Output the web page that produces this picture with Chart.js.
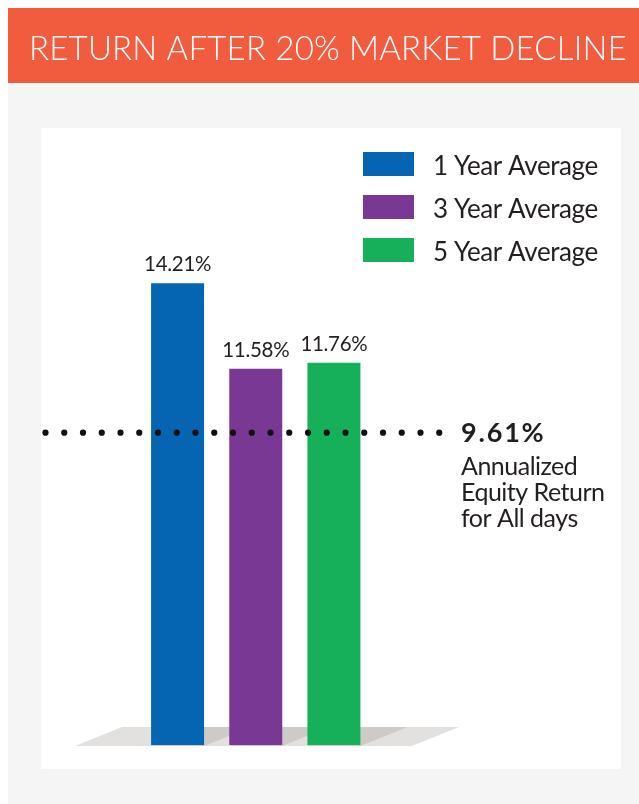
<!DOCTYPE html>
<html>
<head>
<meta charset="utf-8">
<script src="https://cdn.jsdelivr.net/npm/chart.js@4.4.1/dist/chart.umd.min.js"></script>
<style>
  html, body { margin: 0; padding: 0; background: #ffffff; }
  #wrap { width: 639px; height: 804px; position: relative; }
  canvas { display: block; }
</style>
</head>
<body>
<div id="wrap"><canvas id="c" width="639" height="804"></canvas></div>
<script>
// ---- data ----
const titleText = 'RETURN AFTER 20% MARKET DECLINE';
const categories = ['1 Year Average', '3 Year Average', '5 Year Average'];
const values = [14.21, 11.58, 11.76];
const valueLabels = ['14.21%', '11.58%', '11.76%'];
const benchmarkValue = 9.61;
const benchmarkLabel = '9.61%';
const benchmarkNote = ['Annualized', 'Equity Return', 'for All days'];

// ---- style ----
const barColors = ['#0565b2', '#7a3895', '#16b05a'];
const FONT = 'Lato, "Open Sans", sans-serif';
const TEXT = '#231f20';

function setSpacing(ctx, px) {
  if ('letterSpacing' in ctx) ctx.letterSpacing = px + 'px';
}

const decorPlugin = {
  id: 'decor',
  beforeDraw(chart) {
    const ctx = chart.ctx;
    ctx.save();
    ctx.fillStyle = '#ffffff';
    ctx.fillRect(0, 0, chart.width, chart.height);
    ctx.fillStyle = '#f4f5f4';
    ctx.fillRect(8, 83, chart.width - 8, chart.height - 83);
    ctx.fillStyle = '#f15b3e';
    ctx.fillRect(8, 8, chart.width - 8, 75);
    ctx.fillStyle = '#ffffff';
    ctx.fillRect(41, 128, 580, 641);
    // title
    ctx.fillStyle = '#ffffff';
    ctx.font = '300 33px ' + FONT;
    setSpacing(ctx, 0.2);
    ctx.textAlign = 'center';
    ctx.textBaseline = 'alphabetic';
    ctx.fillText(titleText, 328, 60);
    // legend
    ctx.textAlign = 'left';
    ctx.font = '400 26px ' + FONT;
    setSpacing(ctx, -0.4);
    categories.forEach((cat, i) => {
      const top = 152 + i * 43;
      ctx.fillStyle = barColors[i];
      ctx.fillRect(363, top, 51, 24);
      ctx.fillStyle = TEXT;
      ctx.fillText(cat, 433, top + 23);
    });
    ctx.restore();
  },
  beforeDatasetsDraw(chart) {
    const ctx = chart.ctx;
    const y0 = chart.scales.y.getPixelForValue(0) + 1;
    const yt = y0 - 19;
    const slant = 47;
    ctx.save();
    ctx.fillStyle = '#e3e1df';
    ctx.beginPath();
    ctx.moveTo(75, y0);
    ctx.lineTo(75 + slant, yt);
    ctx.lineTo(459, yt);
    ctx.lineTo(459 - slant, y0);
    ctx.closePath();
    ctx.fill();
    ctx.fillStyle = '#cdcac7';
    chart.getDatasetMeta(0).data.forEach(bar => {
      const l = bar.x - bar.width / 2, r = bar.x + bar.width / 2;
      ctx.beginPath();
      ctx.moveTo(l, y0);
      ctx.lineTo(l + slant, yt);
      ctx.lineTo(r + slant, yt);
      ctx.lineTo(r, y0);
      ctx.closePath();
      ctx.fill();
    });
    ctx.restore();
  },
  afterDatasetsDraw(chart) {
    const ctx = chart.ctx;
    ctx.save();
    // bar value labels
    ctx.fillStyle = TEXT;
    ctx.font = '400 20.5px ' + FONT;
    setSpacing(ctx, -0.3);
    ctx.textAlign = 'center';
    ctx.textBaseline = 'alphabetic';
    chart.getDatasetMeta(0).data.forEach((bar, i) => {
      ctx.fillText(valueLabels[i], bar.x, bar.y - 12);
    });
    // benchmark dotted line
    const yb = chart.scales.y.getPixelForValue(benchmarkValue);
    ctx.fillStyle = '#111111';
    for (let i = 0; i < 22; i++) {
      ctx.beginPath();
      ctx.arc(45.5 + i * 18.75, yb, 3.1, 0, Math.PI * 2);
      ctx.fill();
    }
    // benchmark annotation
    ctx.textAlign = 'left';
    ctx.fillStyle = TEXT;
    ctx.font = 'bold 27px ' + FONT;
    setSpacing(ctx, 1.8);
    ctx.fillText(benchmarkLabel, 461, yb + 9);
    ctx.font = '400 25px ' + FONT;
    setSpacing(ctx, -0.5);
    benchmarkNote.forEach((line, i) => {
      ctx.fillText(line, 461, yb + 42 + i * 26);
    });
    ctx.restore();
  }
};

new Chart(document.getElementById('c'), {
  type: 'bar',
  data: {
    labels: categories,
    datasets: [{
      data: values,
      backgroundColor: barColors,
      borderWidth: 0,
      barPercentage: 0.678,
      categoryPercentage: 1
    }]
  },
  options: {
    responsive: false,
    animation: false,
    devicePixelRatio: 1,
    layout: { padding: { left: 138.5, right: 266, top: 127.5, bottom: 59 } },
    scales: {
      x: { display: false, offset: true },
      y: { display: false, min: 0, max: 19 }
    },
    plugins: { legend: { display: false }, tooltip: { enabled: false }, title: { display: false } }
  },
  plugins: [decorPlugin]
});
</script>
</body>
</html>
